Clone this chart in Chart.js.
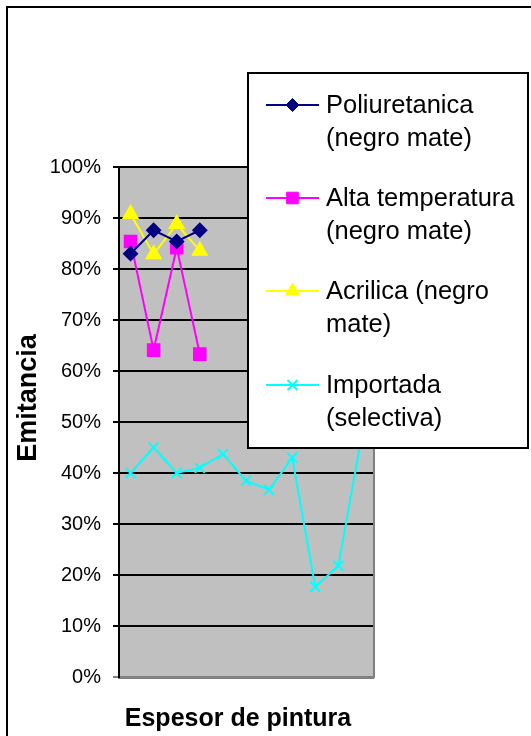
<!DOCTYPE html>
<html>
<head>
<meta charset="utf-8">
<script src="https://cdn.jsdelivr.net/npm/chart.js@4/dist/chart.umd.min.js"></script>
<style>
  html, body { margin: 0; padding: 0; background: #fff; }
  #wrap { width: 531px; height: 736px; }
</style>
</head>
<body>
<div id="wrap"><canvas id="chart" width="531" height="736"></canvas></div>
<script>
// muestras (eje x sin etiquetas)
const categories = ["1", "2", "3", "4", "5", "6", "7", "8", "9", "10", "11"];

const poliuretanica = [0.830, 0.876, 0.854, 0.876];
const altaTemperatura = [0.854, 0.641, 0.842, 0.633];
const acrilica = [0.908, 0.829, 0.888, 0.836];
const importada = [0.400, 0.450, 0.400, 0.410, 0.437, 0.385, 0.367, 0.430, 0.177, 0.218, 0.470];

const seriesNames = [
  ["Poliuretanica", "(negro mate)"],
  ["Alta temperatura", "(negro mate)"],
  ["Acrilica (negro", "mate)"],
  ["Importada", "(selectiva)"]
];

const yTicks = [0, 0.1, 0.2, 0.3, 0.4, 0.5, 0.6, 0.7, 0.8, 0.9, 1.0];

const FONT = "'Liberation Sans', Arial, sans-serif";

// fondo, marco exterior, titulos y leyenda
const decor = {
  id: "decor",
  beforeDraw(chart) {
    const ctx = chart.ctx;
    const a = chart.chartArea;
    ctx.save();
    ctx.fillStyle = "#fff";
    ctx.fillRect(0, 0, chart.width, chart.height);
    ctx.strokeStyle = "#000";
    ctx.lineWidth = 2;
    ctx.strokeRect(7, 7, 700, 900);
    ctx.fillStyle = "#c0c0c0";
    ctx.fillRect(a.left, a.top, a.right - a.left, a.bottom - a.top);
    ctx.restore();
  },
  afterDatasetsDraw(chart) {
    const ctx = chart.ctx;
    const a = chart.chartArea;
    ctx.save();
    // borde derecho gris
    ctx.strokeStyle = "#808080";
    ctx.lineWidth = 2;
    ctx.beginPath();
    ctx.moveTo(a.right + 1, a.top);
    ctx.lineTo(a.right + 1, a.bottom + 1);
    ctx.stroke();

    // titulos
    ctx.fillStyle = "#000";
    ctx.textAlign = "center";
    ctx.textBaseline = "middle";
    ctx.font = "bold 25px " + FONT;
    ctx.fillText("Espesor de pintura", 238, 719);
    ctx.translate(29, 398);
    ctx.rotate(-Math.PI / 2);
    ctx.font = "bold 27px " + FONT;
    ctx.fillText("Emitancia", 0, 0);
    ctx.restore();

    // leyenda
    ctx.save();
    ctx.fillStyle = "#fff";
    ctx.fillRect(248, 73, 280, 375);
    ctx.strokeStyle = "#000";
    ctx.lineWidth = 2;
    ctx.strokeRect(248, 73, 280, 375);
    const rows = [105, 198, 291, 385];
    chart.data.datasets.forEach((ds, i) => {
      const y = rows[i];
      ctx.strokeStyle = ds.borderColor;
      ctx.lineWidth = 2;
      ctx.beginPath();
      ctx.moveTo(266, y);
      ctx.lineTo(319, y);
      ctx.stroke();
      ctx.fillStyle = ds.pointBackgroundColor;
      ctx.strokeStyle = ds.pointBorderColor;
      ctx.lineWidth = ds.pointBorderWidth || 1;
      Chart.helpers.drawPoint(ctx, {
        pointStyle: ds.pointStyle,
        radius: ds.pointRadius,
        borderWidth: ds.pointBorderWidth || 1
      }, 292.5, y);
      ctx.fillStyle = "#000";
      ctx.font = "25.5px " + FONT;
      ctx.textAlign = "left";
      ctx.textBaseline = "middle";
      seriesNames[i].forEach((line, j) => ctx.fillText(line, 326, y + 1 + j * 33));
    });
    ctx.restore();
  }
};

const ctx = document.getElementById("chart").getContext("2d");
new Chart(ctx, {
  type: "line",
  data: {
    labels: categories,
    datasets: [
      {
        label: seriesNames[0].join(" "),
        data: poliuretanica,
        borderColor: "#000080",
        pointBackgroundColor: "#000080",
        pointBorderColor: "#000080",
        pointStyle: "rectRot",
        pointRadius: 6.5,
        borderWidth: 2
      },
      {
        label: seriesNames[1].join(" "),
        data: altaTemperatura,
        borderColor: "#ff00ff",
        pointBackgroundColor: "#ff00ff",
        pointBorderColor: "#ff00ff",
        pointStyle: "rect",
        pointRadius: 8.2,
        borderWidth: 2
      },
      {
        label: seriesNames[2].join(" "),
        data: acrilica,
        borderColor: "#ffff00",
        pointBackgroundColor: "#ffff00",
        pointBorderColor: "#ffff00",
        pointStyle: "triangle",
        pointRadius: 8,
        borderWidth: 2
      },
      {
        label: seriesNames[3].join(" "),
        data: importada,
        borderColor: "#00ffff",
        pointBackgroundColor: "#00ffff",
        pointBorderColor: "#00ffff",
        pointStyle: "crossRot",
        pointRadius: 7,
        pointBorderWidth: 2,
        borderWidth: 2
      }
    ]
  },
  options: {
    responsive: false,
    animation: false,
    devicePixelRatio: 1,
    layout: { padding: { left: 0, top: 167, right: 158, bottom: 0 } },
    plugins: { legend: { display: false }, tooltip: { enabled: false } },
    elements: { line: { tension: 0 } },
    scales: {
      x: {
        offset: true,
        ticks: { display: false },
        grid: { display: false },
        border: { color: "#808080", width: 3 },
        afterFit(scale) { scale.height = 59; }
      },
      y: {
        min: 0,
        max: 1,
        afterBuildTicks(scale) { scale.ticks = yTicks.map(v => ({ value: v })); },
        ticks: {
          padding: 12,
          color: "#000",
          font: { family: FONT, size: 20 },
          callback: v => Math.round(v * 100) + "%"
        },
        grid: {
          color: c => (c.tick && c.tick.value === 0 ? "#808080" : "#000"),
          lineWidth: 2,
          tickLength: 6
        },
        border: { color: "#000", width: 2 },
        afterFit(scale) { scale.width = 119; }
      }
    }
  },
  plugins: [decor]
});
</script>
</body>
</html>
